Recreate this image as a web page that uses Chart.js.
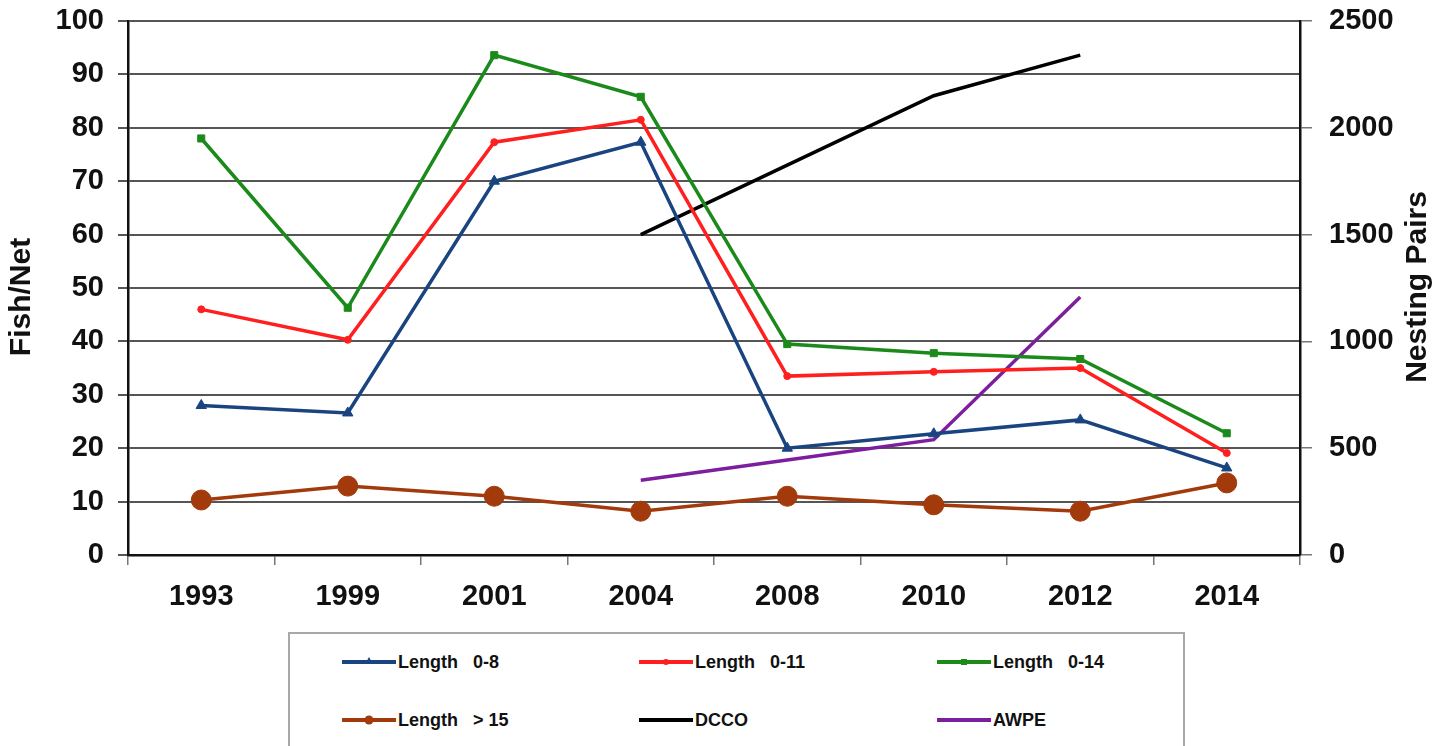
<!DOCTYPE html>
<html>
<head>
<meta charset="utf-8">
<script src="https://cdn.jsdelivr.net/npm/chart.js@4.4.1/dist/chart.umd.min.js"></script>
<style>
  html, body { margin: 0; padding: 0; background: #fff; }
  #wrap { position: relative; width: 1451px; height: 746px; overflow: hidden; }
  #legend {
    position: absolute; left: 288px; top: 632px; width: 897px; height: 140px;
    border: 2px solid #a8a8a8; box-sizing: border-box; background: #fff;
    font-family: "Liberation Sans", Arial, sans-serif; font-weight: bold; font-size: 18px;
  }
  .item { position: absolute; display: flex; align-items: center; white-space: pre; color: #111; }
  .item canvas { margin-right: 2px; }
</style>
</head>
<body>
<div id="wrap">
  <canvas id="chart" width="1451" height="746"></canvas>
  <div id="legend"></div>
</div>
<script>
// categories and values
const years = ['1993', '1999', '2001', '2004', '2008', '2010', '2012', '2014'];
const len0to8 = [28, 26.6, 70, 77.3, 20, 22.7, 25.3, 16.3];
const len0to11 = [46, 40.3, 77.3, 81.5, 33.5, 34.3, 35, 19.1];
const len0to14 = [78, 46.3, 93.6, 85.8, 39.5, 37.8, 36.7, 22.8];
const lenOver15 = [10.3, 12.9, 11, 8.2, 11, 9.4, 8.2, 13.5];
// nesting pairs, right axis
const dcco = [null, null, null, 1500, 1825, 2150, 2340, null];
const awpe = [null, null, null, 350, 445, 540, 1208, null];

const leftTicks = { min: 0, max: 100, step: 10 };
const rightTicks = { min: 0, max: 2500, step: 500 };

const FONT = '"Liberation Sans", Arial, sans-serif';

function series(label, data, color, style, radius, axis) {
  return {
    label, data, yAxisID: axis,
    borderColor: color, backgroundColor: color,
    borderWidth: 3.5, pointStyle: style, pointRadius: radius,
    pointBorderWidth: 1, pointHoverRadius: radius,
    tension: 0, spanGaps: false
  };
}

const datasets = [
  series('Length   0-8', len0to8, '#1a4480', 'triangle', 6, 'y'),
  series('Length   0-11', len0to11, '#ff1f1f', 'circle', 3.5, 'y'),
  series('Length   0-14', len0to14, '#1b8a1b', 'rect', 5, 'y'),
  series('Length   > 15', lenOver15, '#a23a0c', 'circle', 10, 'y'),
  series('DCCO', dcco, '#000000', false, 0, 'y2'),
  series('AWPE', awpe, '#7d1e9e', false, 0, 'y2')
];

// both axis titles read bottom-to-top
const axisTitles = {
  id: 'axisTitles',
  afterDraw(chart) {
    const ctx = chart.ctx;
    const draw = (text, x, y, size) => {
      ctx.save();
      ctx.translate(x, y);
      ctx.rotate(-Math.PI / 2);
      ctx.font = 'bold ' + size + 'px ' + FONT;
      ctx.fillStyle = '#111';
      ctx.textAlign = 'center';
      ctx.textBaseline = 'middle';
      ctx.fillText(text, 0, 0);
      ctx.restore();
    };
    draw('Fish/Net', 22, 297, 30);
    draw('Nesting Pairs', 1418, 287, 30);
  }
};

function noPad(s) { s.paddingTop = 0; s.paddingBottom = 0; }

const chart = new Chart(document.getElementById('chart'), {
  type: 'line',
  data: { labels: years, datasets },
  options: {
    responsive: false,
    animation: false,
    layout: { padding: { top: 21, bottom: 0, left: 0, right: 0 } },
    plugins: { legend: { display: false }, tooltip: { enabled: false } },
    scales: {
      x: {
        offset: true,
        grid: { offset: true, drawOnChartArea: false, color: '#777', tickLength: 10, lineWidth: 1.5 },
        border: { color: '#111', width: 2.5 },
        ticks: { color: '#111', font: { family: FONT, size: 29, weight: 'bold' }, padding: 15, maxRotation: 0 },
        afterFit(s) { s.height = 191; s.paddingLeft = 0; s.paddingRight = 0; }
      },
      y: {
        position: 'left',
        min: leftTicks.min, max: leftTicks.max,
        ticks: { stepSize: leftTicks.step, color: '#111', font: { family: FONT, size: 29, weight: 'bold' }, padding: 14 },
        grid: { color: '#555', lineWidth: 2, tickLength: 10 },
        border: { color: '#111', width: 2.5 },
        afterFit(s) { s.width = 128; noPad(s); }
      },
      y2: {
        position: 'right',
        min: rightTicks.min, max: rightTicks.max,
        ticks: {
          stepSize: rightTicks.step, color: '#111', font: { family: FONT, size: 29, weight: 'bold' }, padding: 17,
          callback: v => String(v)
        },
        grid: { drawOnChartArea: false, color: '#777', tickLength: 12, lineWidth: 1.5 },
        border: { color: '#111', width: 2.5 },
        afterFit(s) { s.width = 151; noPad(s); }
      }
    }
  },
  plugins: [axisTitles]
});

// legend laid out as a 3 x 2 grid like the original
const legendPos = [
  [52, 28], [349, 28], [647, 28],
  [52, 86], [349, 86], [647, 86]
];
const legendEl = document.getElementById('legend');
chart.data.datasets.forEach((ds, i) => {
  const item = document.createElement('div');
  item.className = 'item';
  item.style.left = legendPos[i][0] + 'px';
  item.style.top = (legendPos[i][1] - 12) + 'px';
  const c = document.createElement('canvas');
  c.width = 54; c.height = 24;
  const g = c.getContext('2d');
  g.strokeStyle = ds.borderColor;
  g.lineWidth = 4;
  g.beginPath(); g.moveTo(0, 12); g.lineTo(54, 12); g.stroke();
  g.fillStyle = ds.borderColor;
  if (ds.pointStyle === 'triangle') {
    g.beginPath(); g.moveTo(27, 7); g.lineTo(31, 14); g.lineTo(23, 14); g.closePath(); g.fill();
  } else if (ds.pointStyle === 'rect') {
    g.fillRect(24, 9, 6, 6);
  } else if (ds.pointStyle) {
    g.beginPath(); g.arc(27, 12, ds.pointRadius > 5 ? 4.5 : 3, 0, Math.PI * 2); g.fill();
  }
  item.appendChild(c);
  const t = document.createElement('span');
  t.textContent = ds.label;
  item.appendChild(t);
  legendEl.appendChild(item);
});
</script>
</body>
</html>
